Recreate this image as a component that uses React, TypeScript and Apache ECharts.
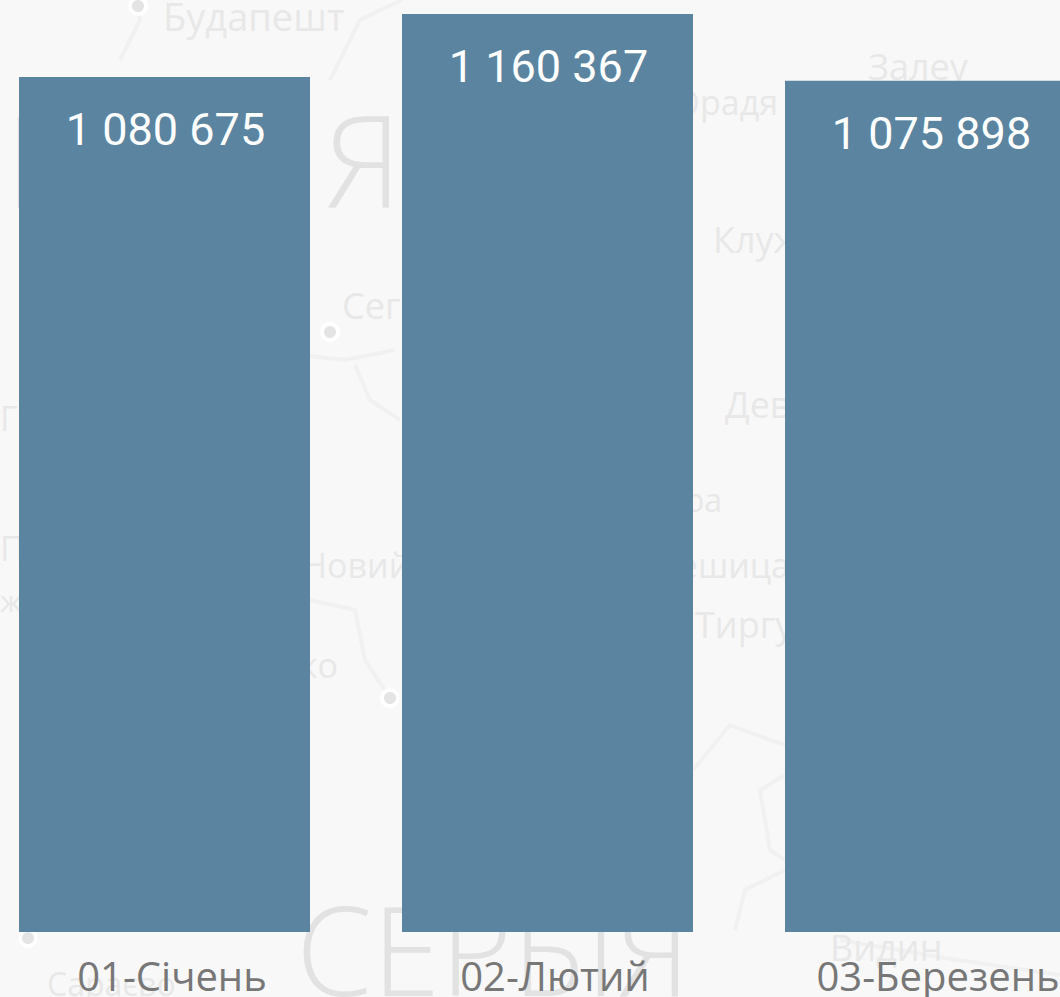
import React, { useEffect, useRef } from "react";
import * as echarts from "echarts";

const months = ["01-Січень", "02-Лютий", "03-Березень"];
const values = [1080675, 1160367, 1075898];

// Faint map names printed behind the bars: [text, x, middle y, font size, anchor]
const mapNames: [string, number, number, number, string][] = [
  ["Будапешт", 163, 16, 38, "left"],
  ["Залеу", 868, 66, 36, "left"],
  ["Орадя", 778, 102, 34, "right"],
  ["Клуж", 713, 239, 36, "left"],
  ["Сегед", 342, 305, 36, "left"],
  ["Дева", 725, 404, 36, "left"],
  ["Тімішоара", 722, 499, 32, "right"],
  ["Решица", 790, 565, 34, "right"],
  ["Тиргу", 695, 624, 36, "left"],
  ["Новий", 302, 565, 34, "left"],
  ["Ніш ко", 338, 665, 34, "right"],
  ["Видин", 830, 947, 36, "left"],
  ["Сараєво", 47, 983, 32, "left"],
  ["Г", 0, 418, 34, "left"],
  ["Пг", 0, 548, 34, "left"],
  ["ж", 0, 600, 30, "left"],
];
const bigNames: [string, number, number, number][] = [
  ["Я", 325, 158, 128],
  ["І", 5, 158, 128],
  ["СЕРБІЯ", 296, 948, 123],
];
const towns: [number, number][] = [
  [138, 6],
  [330, 332],
  [390, 698],
  [28, 938],
];
const roads: [number, number][][] = [
  [[300, 355], [345, 360], [395, 350]],
  [[355, 365], [370, 400], [400, 420]],
  [[310, 600], [355, 610], [365, 660], [390, 698]],
  [[693, 770], [730, 725], [770, 740], [785, 745]],
  [[785, 775], [760, 790], [770, 850], [785, 860]],
  [[120, 60], [140, 20], [138, 6]],
  [[735, 930], [745, 890], [785, 870]],
  [[840, 940], [945, 958], [1060, 975]],
  [[330, 80], [360, 20], [402, 0]],
];

const spaced = (v: number) => String(v).replace(/\B(?=(\d{3})+(?!\d))/g, " ");

export default function App() {
  const ref = useRef<HTMLDivElement>(null);
  useEffect(() => {
    const chart = echarts.init(ref.current!, null, { renderer: "svg" });
    chart.setOption({
      animation: false,
      backgroundColor: "#f8f8f8",
      grid: { left: 0, top: 14, width: 1149, height: 918, containLabel: false },
      xAxis: {
        type: "category",
        data: months,
        axisLine: { show: false },
        axisTick: { show: false },
        axisLabel: {
          interval: 0,
          hideOverlap: false,
          color: "#777777",
          fontFamily: "Open Sans",
          fontSize: 40,
          margin: 23,
          padding: [0, 0, 0, 15],
        },
      },
      yAxis: { type: "value", min: 0, max: 1160367, show: false },
      series: [
        {
          type: "bar",
          data: values,
          barWidth: 291,
          itemStyle: { color: "#5a84a0" },
          label: {
            show: true,
            position: "insideTop",
            distance: 30,
            offset: [1, 0],
            color: "#ffffff",
            fontFamily: "Roboto",
            fontSize: 45,
            formatter: (p: any) => spaced(p.value),
          },
        },
      ],
      graphic: [
        {
          type: "group",
          x: 27,
          y: 0,
          children: [
            ...roads.map((points) => ({
              type: "polyline",
              shape: { points },
              style: { stroke: "#f1f1f1", lineWidth: 4, fill: "none" },
            })),
            ...towns.map(([x, y]) => ({
              type: "circle",
              shape: { cx: x, cy: y, r: 8 },
              style: { fill: "#e4e4e4", stroke: "#ffffff", lineWidth: 4 },
            })),
            ...bigNames.map(([text, x, y, size]) => ({
              type: "text",
              x,
              y,
              style: {
                text,
                fill: "#e2e2e2",
                font: `300 ${size}px 'Open Sans'`,
                verticalAlign: "middle",
                align: "left",
              },
            })),
            ...mapNames.map(([text, x, y, size, align]) => ({
              type: "text",
              x,
              y,
              style: {
                text,
                fill: "#e8e8e8",
                font: `${size}px 'Open Sans'`,
                verticalAlign: "middle",
                align,
              },
            })),
          ],
        },
      ],
    });
    return () => chart.dispose();
  }, []);
  return (
    <div style={{ position: "absolute", left: 0, top: 0, width: 1060, height: 997, overflow: "hidden" }}>
      <div ref={ref} style={{ position: "absolute", left: -27, top: 0, width: 1149, height: 997 }} />
    </div>
  );
}
